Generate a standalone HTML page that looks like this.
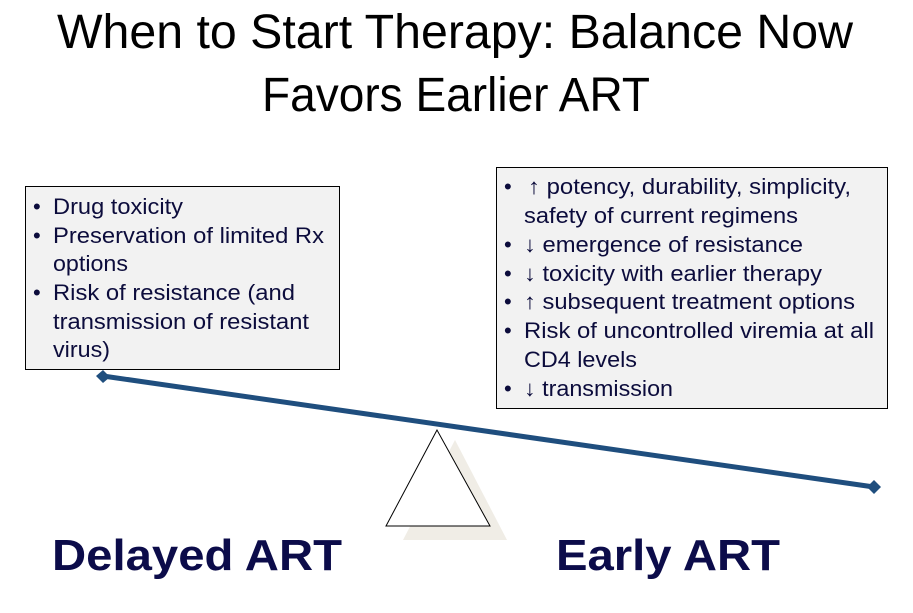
<!DOCTYPE html>
<html><head><meta charset="utf-8"><style>
html,body{margin:0;padding:0;background:#fff;}
svg{display:block;}
</style></head><body>
<svg width="913" height="613" viewBox="0 0 913 613" xmlns="http://www.w3.org/2000/svg">
<g font-family="Liberation Sans, DejaVu Sans, sans-serif" fill="#000">
<text x="57" y="48" font-size="48" textLength="796" lengthAdjust="spacingAndGlyphs">When to Start Therapy: Balance Now</text>
<text x="262" y="111" font-size="48" textLength="388" lengthAdjust="spacingAndGlyphs">Favors Earlier ART</text>
</g>
<rect x="25.5" y="186.5" width="314" height="183" fill="#f2f2f2" stroke="#000" stroke-width="1"/>
<rect x="496.5" y="167.5" width="391" height="241" fill="#f2f2f2" stroke="#000" stroke-width="1"/>
<g font-family="Liberation Sans, sans-serif" font-size="22" fill="#0c0c3c">
<text x="33" y="214">•</text><text x="53" y="214" textLength="130" lengthAdjust="spacingAndGlyphs">Drug toxicity</text>
<text x="33" y="243">•</text><text x="53" y="243" textLength="271" lengthAdjust="spacingAndGlyphs">Preservation of limited Rx</text>
<text x="53" y="271" textLength="75" lengthAdjust="spacingAndGlyphs">options</text>
<text x="33" y="300">•</text><text x="53" y="300" textLength="242" lengthAdjust="spacingAndGlyphs">Risk of resistance (and</text>
<text x="53" y="329" textLength="256" lengthAdjust="spacingAndGlyphs">transmission of resistant</text>
<text x="53" y="357" textLength="57" lengthAdjust="spacingAndGlyphs">virus)</text>

<text x="504" y="194">•</text><text x="528" y="194" textLength="323" lengthAdjust="spacingAndGlyphs">↑ potency, durability, simplicity,</text>
<text x="524" y="223" textLength="274" lengthAdjust="spacingAndGlyphs">safety of current regimens</text>
<text x="504" y="252">•</text><text x="524" y="252" textLength="279" lengthAdjust="spacingAndGlyphs">↓ emergence of resistance</text>
<text x="504" y="281">•</text><text x="524" y="281" textLength="298" lengthAdjust="spacingAndGlyphs">↓ toxicity with earlier therapy</text>
<text x="504" y="309">•</text><text x="524" y="309" textLength="331" lengthAdjust="spacingAndGlyphs">↑ subsequent treatment options</text>
<text x="504" y="338">•</text><text x="524" y="338" textLength="350" lengthAdjust="spacingAndGlyphs">Risk of uncontrolled viremia at all</text>
<text x="524" y="367" textLength="113" lengthAdjust="spacingAndGlyphs">CD4 levels</text>
<text x="504" y="396">•</text><text x="524" y="396" textLength="149" lengthAdjust="spacingAndGlyphs">↓ transmission</text>
</g>
<polygon points="455,440 403,540 507,540" fill="#f0ede6"/>
<polygon points="437,430 386,526 490,526" fill="#fff" stroke="#000" stroke-width="1"/>
<line x1="103" y1="376" x2="874" y2="487" stroke="#1f4e7e" stroke-width="5"/>
<polygon points="96,376 103,370 110,377 103,383" fill="#1f4e7e"/>
<polygon points="867,487 874,480 881,487 874,494" fill="#1f4e7e"/>
<g font-family="Liberation Sans, sans-serif" font-weight="bold" font-size="44" fill="#0c0c4a">
<text x="52" y="570" textLength="290" lengthAdjust="spacingAndGlyphs">Delayed ART</text>
<text x="556" y="570" textLength="224" lengthAdjust="spacingAndGlyphs">Early ART</text>
</g>
</svg>
</body></html>
